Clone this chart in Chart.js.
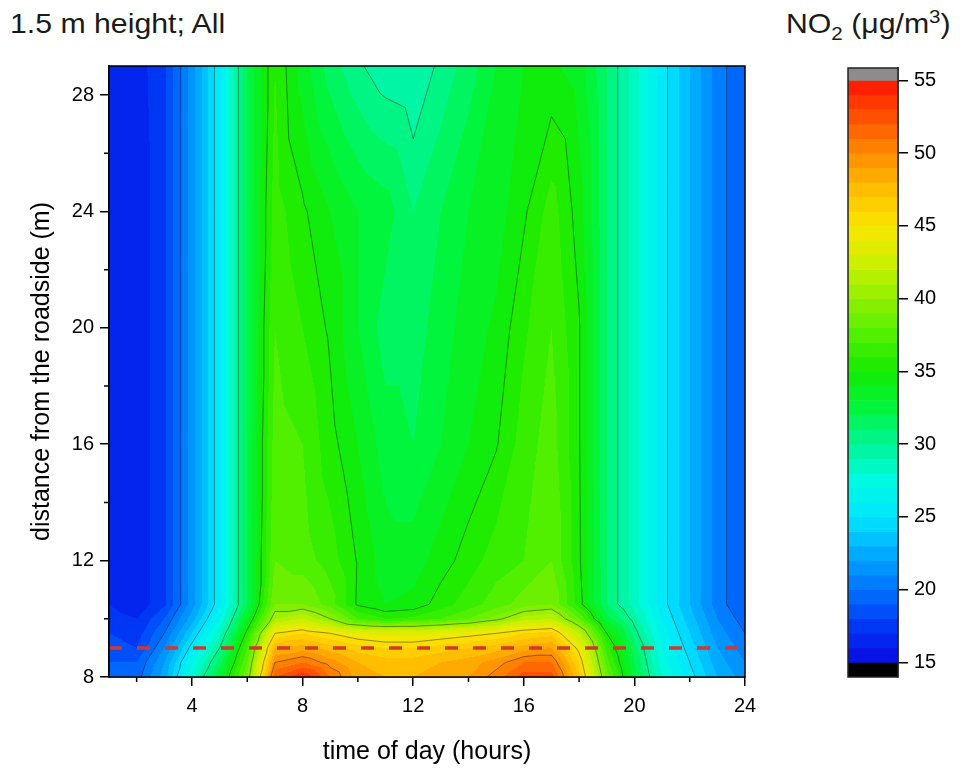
<!DOCTYPE html>
<html>
<head>
<meta charset="utf-8">
<script src="https://cdn.jsdelivr.net/npm/chart.js@4.4.1/dist/chart.umd.min.js"></script>
<style>
  html, body { margin: 0; padding: 0; background: #fff; }
  body { width: 965px; height: 776px; position: relative; overflow: hidden; font-family: "Liberation Sans", Arial, sans-serif; }
  #main { position: absolute; left: 0; top: 0; }
  #bar { position: absolute; left: 800px; top: 0; }
  .ttl { position: absolute; font-size: 28px; line-height: 28px; color: #1a1a1a; white-space: nowrap; transform-origin: left top; transform: scaleX(1.08); }
  .ttl sub, .ttl sup { font-size: 0.68em; line-height: 0; }
</style>
</head>
<body>
<div class="ttl" style="left:10px; top:10px;">1.5 m height; All</div>
<div class="ttl" style="left:786px; top:10px;">NO<sub>2</sub> (μg/m<sup>3</sup>)</div>
<canvas id="main" width="800" height="776"></canvas>
<canvas id="bar" width="165" height="776"></canvas>
<script>
// grid of the contour map: hour of day (x) and distance from the roadside in m (y)
const hours = [1, 2, 3, 4, 5, 6, 7, 8, 9, 10, 11, 12, 13, 14, 15, 16, 17, 18, 19, 20, 21, 22, 23, 24];
const distances = [8, 8.5, 9, 9.5, 10, 10.5, 12, 16, 20, 24, 29];

// NO2 (µg/m3) per distance, one value per hour
const no2_8m    = [19.5, 19.5, 22.5, 28.0, 33.0, 39.0, 52.0, 54.0, 51.0, 48.5, 48.0, 48.0, 48.5, 49.0, 50.5, 52.5, 52.5, 47.0, 38.5, 32.5, 28.0, 25.5, 23.0, 21.5];
const no2_8_5m  = [19.0, 19.0, 22.0, 27.0, 31.5, 38.0, 50.0, 51.0, 49.5, 48.0, 47.5, 47.5, 48.0, 48.5, 49.5, 51.0, 51.0, 46.0, 37.5, 32.0, 27.5, 25.0, 22.5, 21.0];
const no2_9m    = [18.5, 18.0, 21.0, 25.5, 30.0, 37.0, 48.0, 48.5, 47.5, 46.5, 46.0, 46.0, 46.5, 47.0, 47.5, 48.5, 49.0, 44.5, 36.5, 31.5, 27.0, 24.5, 22.0, 20.5];
const no2_9_5m  = [18.0, 17.5, 20.0, 24.0, 28.5, 35.5, 45.0, 46.0, 45.0, 44.0, 43.5, 43.5, 44.0, 44.5, 45.0, 46.0, 46.5, 42.0, 35.0, 30.5, 26.5, 24.0, 21.5, 20.0];
const no2_10m   = [17.5, 17.0, 19.0, 22.5, 27.0, 33.5, 41.0, 42.0, 40.0, 37.0, 36.0, 36.2, 37.0, 38.0, 39.5, 41.5, 42.0, 38.0, 32.5, 29.5, 26.0, 23.5, 21.0, 19.5];
const no2_10_5m = [17.0, 16.3, 17.8, 21.5, 25.8, 32.0, 39.0, 39.0, 37.5, 34.8, 34.0, 34.3, 35.5, 36.5, 37.5, 38.5, 39.0, 35.5, 31.0, 28.5, 25.5, 23.0, 20.5, 19.0];
const no2_12m   = [17.0, 16.3, 17.8, 21.5, 25.8, 32.0, 38.0, 37.5, 36.5, 34.9, 33.5, 33.5, 34.5, 35.5, 36.5, 37.0, 38.0, 35.2, 31.0, 28.5, 25.5, 23.0, 20.5, 19.0];
const no2_16m   = [17.0, 16.3, 17.8, 21.5, 25.8, 32.0, 37.5, 37.0, 35.4, 34.0, 32.5, 32.0, 33.0, 34.0, 34.9, 36.5, 37.5, 35.1, 31.0, 28.5, 25.5, 23.0, 20.5, 19.0];
const no2_20m   = [17.0, 16.3, 17.8, 21.5, 25.8, 32.0, 37.0, 36.0, 34.8, 33.0, 31.5, 31.5, 32.5, 33.5, 34.2, 35.8, 37.0, 35.1, 31.0, 28.5, 25.5, 23.0, 20.5, 19.0];
const no2_24m   = [17.0, 16.3, 17.8, 21.5, 25.8, 32.0, 36.5, 35.2, 34.0, 33.0, 32.5, 31.0, 32.0, 33.0, 33.5, 34.8, 36.5, 34.5, 31.0, 28.5, 25.5, 23.0, 20.5, 19.0];
const no2_29m   = [17.0, 16.5, 17.8, 21.5, 25.8, 32.0, 36.0, 33.5, 31.5, 30.2, 29.3, 29.0, 30.3, 31.5, 33.0, 34.0, 34.2, 33.5, 31.0, 28.5, 25.5, 23.0, 20.5, 19.0];
const no2Rows = [no2_8m, no2_8_5m, no2_9m, no2_9_5m, no2_10m, no2_10_5m, no2_12m, no2_16m, no2_20m, no2_24m, no2_29m];

// dashed marker line at 9 m
const roadLineX = [1, 24];
const roadLineY = [9, 9];

const xTicks = [4, 8, 12, 16, 20, 24];
const xMinorTicks = [2, 6, 10, 14, 18, 22];
const yTicks = [8, 12, 16, 20, 24, 28];
const yMinorTicks = [10, 14, 18, 22, 26];
const contourLevels = [20, 25, 30, 35, 40, 45, 50];

// colour scale
const barTicks = [15, 20, 25, 30, 35, 40, 45, 50, 55];
const barEdges = [14, 15, 16, 17, 18, 19, 20, 21, 22, 23, 24, 25, 26, 27, 28, 29, 30, 31, 32, 33, 34, 35,
  36, 37, 38, 39, 40, 41, 42, 43, 44, 45, 46, 47, 48, 49, 50, 51, 52, 53, 54, 55, 55.85];
const cmapValues = [15, 17.5, 20, 22.5, 25, 27.5, 30, 32.5, 35, 37.5, 40, 42.5, 45, 47.5, 50, 52.5, 55];
const cmapColors = [
  [10, 10, 225], [0, 55, 245], [0, 115, 255], [0, 170, 255], [0, 230, 255], [0, 250, 225],
  [0, 245, 150], [0, 245, 60], [20, 235, 0], [80, 240, 0], [145, 240, 0], [205, 240, 0],
  [250, 230, 0], [255, 190, 0], [255, 140, 0], [255, 80, 0], [255, 20, 0]
];

const FONT = '"Liberation Sans", Arial, sans-serif';

function cmap(v) {
  if (v < cmapValues[0]) return [0, 0, 0];
  if (v > cmapValues[cmapValues.length - 1]) return [140, 140, 140];
  let i = 0;
  while (i < cmapValues.length - 2 && v > cmapValues[i + 1]) i++;
  const t = (v - cmapValues[i]) / (cmapValues[i + 1] - cmapValues[i]);
  return cmapColors[i].map((c, k) => Math.round(c + t * (cmapColors[i + 1][k] - c)));
}

// one colour per 1 µg/m3 band
function bandColor(z) {
  return cmap(Math.floor(z) + 0.5);
}

// linear interpolation on the triangulated grid
function zAt(x, y) {
  let i = 0, j = 0;
  while (i < hours.length - 2 && x > hours[i + 1]) i++;
  while (j < distances.length - 2 && y > distances[j + 1]) j++;
  const u = (x - hours[i]) / (hours[i + 1] - hours[i]);
  const v = (y - distances[j]) / (distances[j + 1] - distances[j]);
  const z00 = no2Rows[j][i], z10 = no2Rows[j][i + 1];
  const z01 = no2Rows[j + 1][i], z11 = no2Rows[j + 1][i + 1];
  if (u >= v) return z00 + u * (z10 - z00) + v * (z11 - z10);
  return z00 + v * (z01 - z00) + u * (z11 - z01);
}

function triSegment(pts, level) {
  const cross = [];
  for (let k = 0; k < 3; k++) {
    const p = pts[k], q = pts[(k + 1) % 3];
    if ((p.z < level) !== (q.z < level)) {
      const t = (level - p.z) / (q.z - p.z);
      cross.push([p.x + t * (q.x - p.x), p.y + t * (q.y - p.y)]);
    }
  }
  return cross.length === 2 ? cross : null;
}

const contourPlugin = {
  id: 'contour',
  beforeDatasetsDraw(chart) {
    const { ctx, chartArea: a, scales: { x, y } } = chart;
    const w = Math.round(a.right - a.left), h = Math.round(a.bottom - a.top);
    const off = document.createElement('canvas');
    off.width = w; off.height = h;
    const octx = off.getContext('2d');
    const img = octx.createImageData(w, h);
    const xv = [];
    for (let px = 0; px < w; px++) xv.push(x.getValueForPixel(a.left + px + 0.5));
    for (let py = 0; py < h; py++) {
      const yv = y.getValueForPixel(a.top + py + 0.5);
      for (let px = 0; px < w; px++) {
        const c = bandColor(zAt(xv[px], yv));
        const k = (py * w + px) * 4;
        img.data[k] = c[0]; img.data[k + 1] = c[1]; img.data[k + 2] = c[2]; img.data[k + 3] = 255;
      }
    }
    octx.putImageData(img, 0, 0);
    ctx.drawImage(off, a.left, a.top);

    // contour lines
    ctx.save();
    ctx.beginPath();
    ctx.rect(a.left, a.top, a.right - a.left, a.bottom - a.top);
    ctx.clip();
    ctx.strokeStyle = 'rgba(0, 0, 0, 0.4)';
    ctx.lineWidth = 1;
    ctx.beginPath();
    for (let j = 0; j < distances.length - 1; j++) {
      for (let i = 0; i < hours.length - 1; i++) {
        const p00 = { x: hours[i], y: distances[j], z: no2Rows[j][i] };
        const p10 = { x: hours[i + 1], y: distances[j], z: no2Rows[j][i + 1] };
        const p01 = { x: hours[i], y: distances[j + 1], z: no2Rows[j + 1][i] };
        const p11 = { x: hours[i + 1], y: distances[j + 1], z: no2Rows[j + 1][i + 1] };
        [[p00, p10, p11], [p00, p11, p01]].forEach(tri => {
          contourLevels.forEach(level => {
            const seg = triSegment(tri, level);
            if (!seg) return;
            ctx.moveTo(x.getPixelForValue(seg[0][0]), y.getPixelForValue(seg[0][1]));
            ctx.lineTo(x.getPixelForValue(seg[1][0]), y.getPixelForValue(seg[1][1]));
          });
        });
      }
    }
    ctx.stroke();
    ctx.restore();
  }
};

const framePlugin = {
  id: 'frame',
  afterDraw(chart) {
    const { ctx, chartArea: a, scales: { x, y } } = chart;
    ctx.save();
    ctx.strokeStyle = '#000';
    ctx.lineWidth = 1.5;
    ctx.strokeRect(a.left, a.top, a.right - a.left, a.bottom - a.top);
    ctx.beginPath();
    xMinorTicks.forEach(v => {
      const px = x.getPixelForValue(v);
      ctx.moveTo(px, a.bottom);
      ctx.lineTo(px, a.bottom + 5);
    });
    yMinorTicks.forEach(v => {
      const py = y.getPixelForValue(v);
      ctx.moveTo(a.left, py);
      ctx.lineTo(a.left - 5, py);
    });
    ctx.stroke();
    ctx.restore();
  }
};

const barFramePlugin = {
  id: 'barFrame',
  afterDraw(chart) {
    const { ctx, chartArea: a } = chart;
    ctx.save();
    ctx.strokeStyle = '#222';
    ctx.lineWidth = 1.5;
    ctx.strokeRect(a.left, a.top, a.right - a.left, a.bottom - a.top);
    ctx.restore();
  }
};

new Chart(document.getElementById('main'), {
  type: 'scatter',
  data: {
    datasets: [{
      data: roadLineX.map((v, i) => ({ x: v, y: roadLineY[i] })),
      showLine: true,
      borderColor: '#d2382f',
      borderWidth: 3.5,
      borderDash: [13, 15],
      pointRadius: 0
    }]
  },
  options: {
    responsive: false,
    animation: false,
    layout: { padding: { left: 0, top: 66, right: 55, bottom: 0 } },
    plugins: { legend: { display: false }, tooltip: { enabled: false } },
    scales: {
      x: {
        type: 'linear', min: 1, max: 24,
        afterBuildTicks: s => { s.ticks = xTicks.map(v => ({ value: v })); },
        afterFit: s => { s.height = 99; },
        ticks: { font: { family: FONT, size: 20 }, color: '#000', padding: 8, maxRotation: 0, autoSkip: false },
        grid: { drawOnChartArea: false, tickLength: 9, color: '#000', lineWidth: 1.5 },
        border: { color: '#000', width: 1.5 },
        title: { display: true, text: 'time of day (hours)', color: '#000', font: { family: FONT, size: 25 }, padding: { top: 0, bottom: 9 } }
      },
      y: {
        type: 'linear', min: 8, max: 29,
        afterBuildTicks: s => { s.ticks = yTicks.map(v => ({ value: v })); },
        afterFit: s => { s.width = 109; },
        ticks: { font: { family: FONT, size: 20 }, color: '#000', padding: 6, autoSkip: false },
        grid: { drawOnChartArea: false, tickLength: 9, color: '#000', lineWidth: 1.5 },
        border: { color: '#000', width: 1.5 },
        title: { display: true, text: 'distance from the roadside (m)', color: '#000', font: { family: FONT, size: 25 }, padding: { top: 27, bottom: 0 } }
      }
    }
  },
  plugins: [contourPlugin, framePlugin]
});

const bands = barEdges.slice(0, -1).map((lo, i) => ({ lo: lo, hi: barEdges[i + 1] }));

new Chart(document.getElementById('bar'), {
  type: 'bar',
  data: {
    labels: ['NO2'],
    datasets: [{
      data: bands.map(b => ({ x: 'NO2', y: [b.lo, b.hi] })),
      backgroundColor: bands.map(b => {
        const c = cmap((b.lo + b.hi) / 2);
        return `rgb(${c[0]}, ${c[1]}, ${c[2]})`;
      }),
      borderWidth: 0,
      barPercentage: 1,
      categoryPercentage: 1
    }]
  },
  options: {
    responsive: false,
    animation: false,
    layout: { padding: { left: 48, top: 68, right: 0, bottom: 99 } },
    plugins: { legend: { display: false }, tooltip: { enabled: false } },
    scales: {
      x: { display: false },
      y: {
        position: 'right', min: 14, max: 55.85,
        afterBuildTicks: s => { s.ticks = barTicks.map(v => ({ value: v })); },
        afterFit: s => { s.width = 67; },
        ticks: { font: { family: FONT, size: 20 }, color: '#000', padding: 6, autoSkip: false },
        grid: { drawOnChartArea: false, tickLength: 10, color: '#000', lineWidth: 1.5 },
        border: { color: '#000', width: 1.5 }
      }
    }
  },
  plugins: [barFramePlugin]
});
</script>
</body>
</html>
